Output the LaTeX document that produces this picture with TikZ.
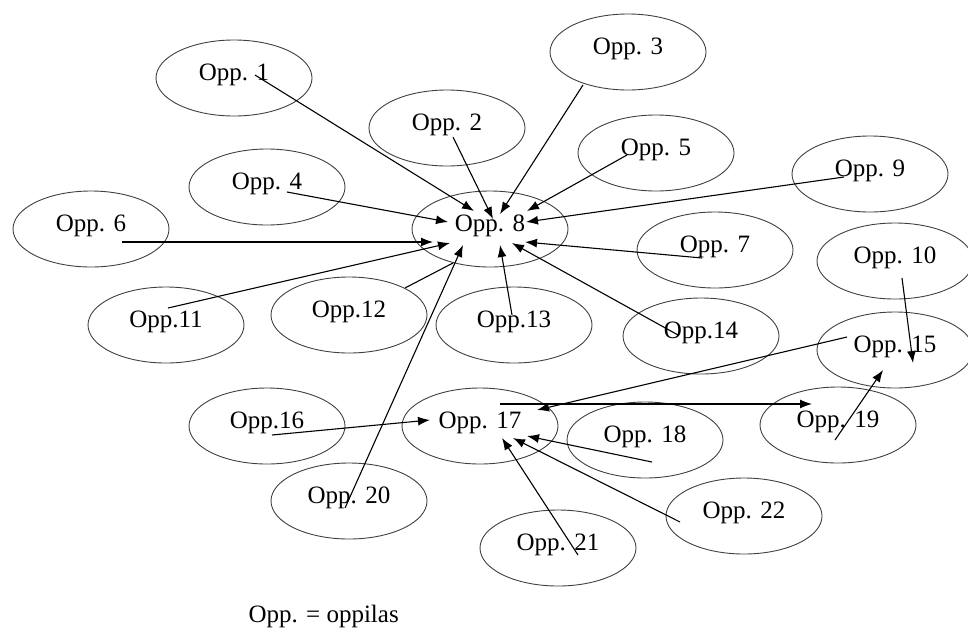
\documentclass[tikz,border=0pt]{standalone}
\usepackage{fontspec}
\setmainfont{Liberation Serif}
\usetikzlibrary{shapes, arrows.meta, calc, positioning}

\begin{document}
\begin{tikzpicture}[x=1pt,y=-1pt,
    opp/.style={draw=black!75,line width=0.9pt,ellipse,minimum width=156pt,minimum height=76pt,
      inner sep=0pt,text height=16pt,text depth=12pt,font=\fontsize{25}{30}\selectfont},
    arr/.style={-{Latex[length=12pt,width=9pt]},line width=1.1pt}]
  \useasboundingbox (0,0) rectangle (968,630);
  % pupils
  \foreach \n/\x/\y/\t in {1/234/78/Opp. 1, 2/447/128/Opp. 2, 3/628/52/Opp. 3, 4/267/187/Opp. 4,
      5/656/153/Opp. 5, 6/91/229/Opp. 6, 7/715/250/Opp. 7, 8/490/229/Opp. 8, 9/870/174/Opp. 9,
      10/895/261/Opp. 10, 11/166/325/Opp.11, 12/349/315/Opp.12, 13/514/325/Opp.13,
      14/701/336/Opp.14, 15/895/350/Opp. 15, 16/267/426/Opp.16, 17/480/426/Opp. 17,
      18/645/440/Opp. 18, 19/838/425/Opp. 19, 20/349/501/Opp. 20, 21/558/548/Opp. 21,
      22/744/516/Opp. 22} {
    \node[opp] (O\n) at (\x,\y) {\t};
  }
  % choices
  \foreach \a/\ax/\ay/\b/\bx/\by in {1/21/-3/8/-16/-18, 2/6/9/8/3/-10, 3/-45/33/8/10/-15,
      4/20/5/8/-42/-7, 5/-29/2/8/37/-18, 9/-26/3/8/36/-7, 6/31/13/8/-57/13,
      11/2/-17/8/-40/14, 20/-4/7/8/-27/16, 13/-2/-10/8/10/16, 14/-23/-1/8/22/14,
      7/-13/8/8/35/13, 15/-48/-13/17/57/-16, 17/20/-22/19/-26/-21, 16/5/9/17/-50/-6,
      18/7/22/17/47/10, 22/-64/6/17/33/12, 21/20/7/17/22/12, 10/7/17/15/18/13,
      19/-3/15/15/-12/20} {
    \draw[arr] ($(O\a)+(\ax,\ay)$) -- ($(O\b)+(\bx,\by)$);
  }
  \draw[line width=1.1pt] ($(O12)+(56,-27)$) -- ($(O8)+(-37,34)$);
  \node[anchor=base west,font=\fontsize{25}{30}\selectfont] (key) at (245,622) {Opp. = oppilas};
\end{tikzpicture}
\end{document}
